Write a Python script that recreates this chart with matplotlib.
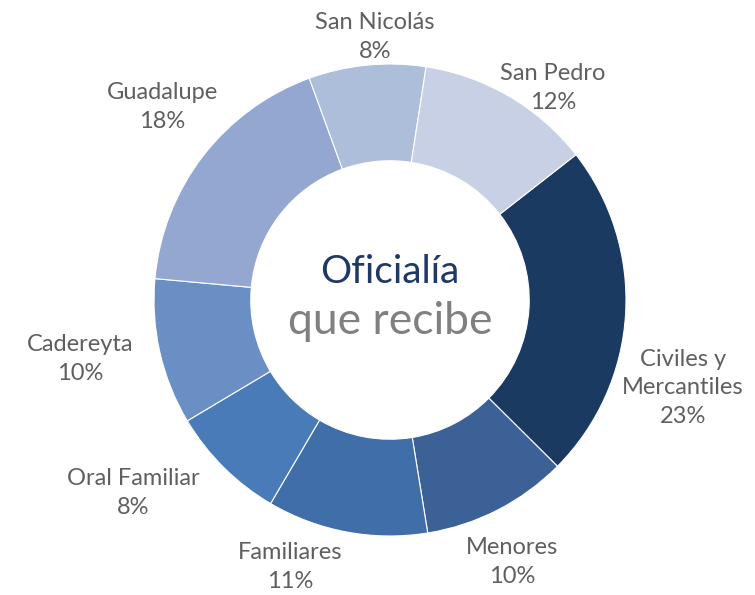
import matplotlib.pyplot as plt

# ---------------- data ----------------
labels = ['Civiles y\nMercantiles', 'Menores', 'Familiares', 'Oral Familiar',
          'Cadereyta', 'Guadalupe', 'San Nicolás', 'San Pedro']
values = [23, 10, 11, 8, 10, 18, 8, 12]
colors = ['#1b3a61', '#3c6196', '#406ea8', '#4a7bb9',
          '#6a8fc4', '#93a7d0', '#adbedb', '#c7d0e4']

# label anchor points (pixel layout, y from top)
label_pos = [(683, 388), (512, 562), (290, 567), (133, 493),
             (80, 359), (162, 107), (375, 37), (553, 88)]

W, H = 755, 595
fig = plt.figure(figsize=(7.55, 5.95), dpi=100)
ax = fig.add_axes([0, 0, 1, 1])

font = 'Lato'
gray = '#5f5f5f'

ax.pie(values, colors=colors, startangle=38, counterclock=False,
       center=(390, H - 300), radius=236, frame=True,
       wedgeprops=dict(width=236 * 0.41, edgecolor='white', linewidth=0.8))
ax.set_xlim(0, W)
ax.set_ylim(0, H)
ax.set_aspect('equal')
ax.axis('off')

for lab, val, (x, y) in zip(labels, values, label_pos):
    ax.text(x, H - y, f"{lab}\n{val}%", ha='center', va='center',
            fontsize=17, color=gray, family=font, linespacing=1.45)

# centre text
ax.text(390, H - 272, 'Oficialía', ha='center', va='center',
        fontsize=28, color='#1f3864', family=font)
ax.text(390, H - 322, 'que recibe', ha='center', va='center',
        fontsize=32, color='#808080', family=font)

fig.savefig('out.png', dpi=100)
